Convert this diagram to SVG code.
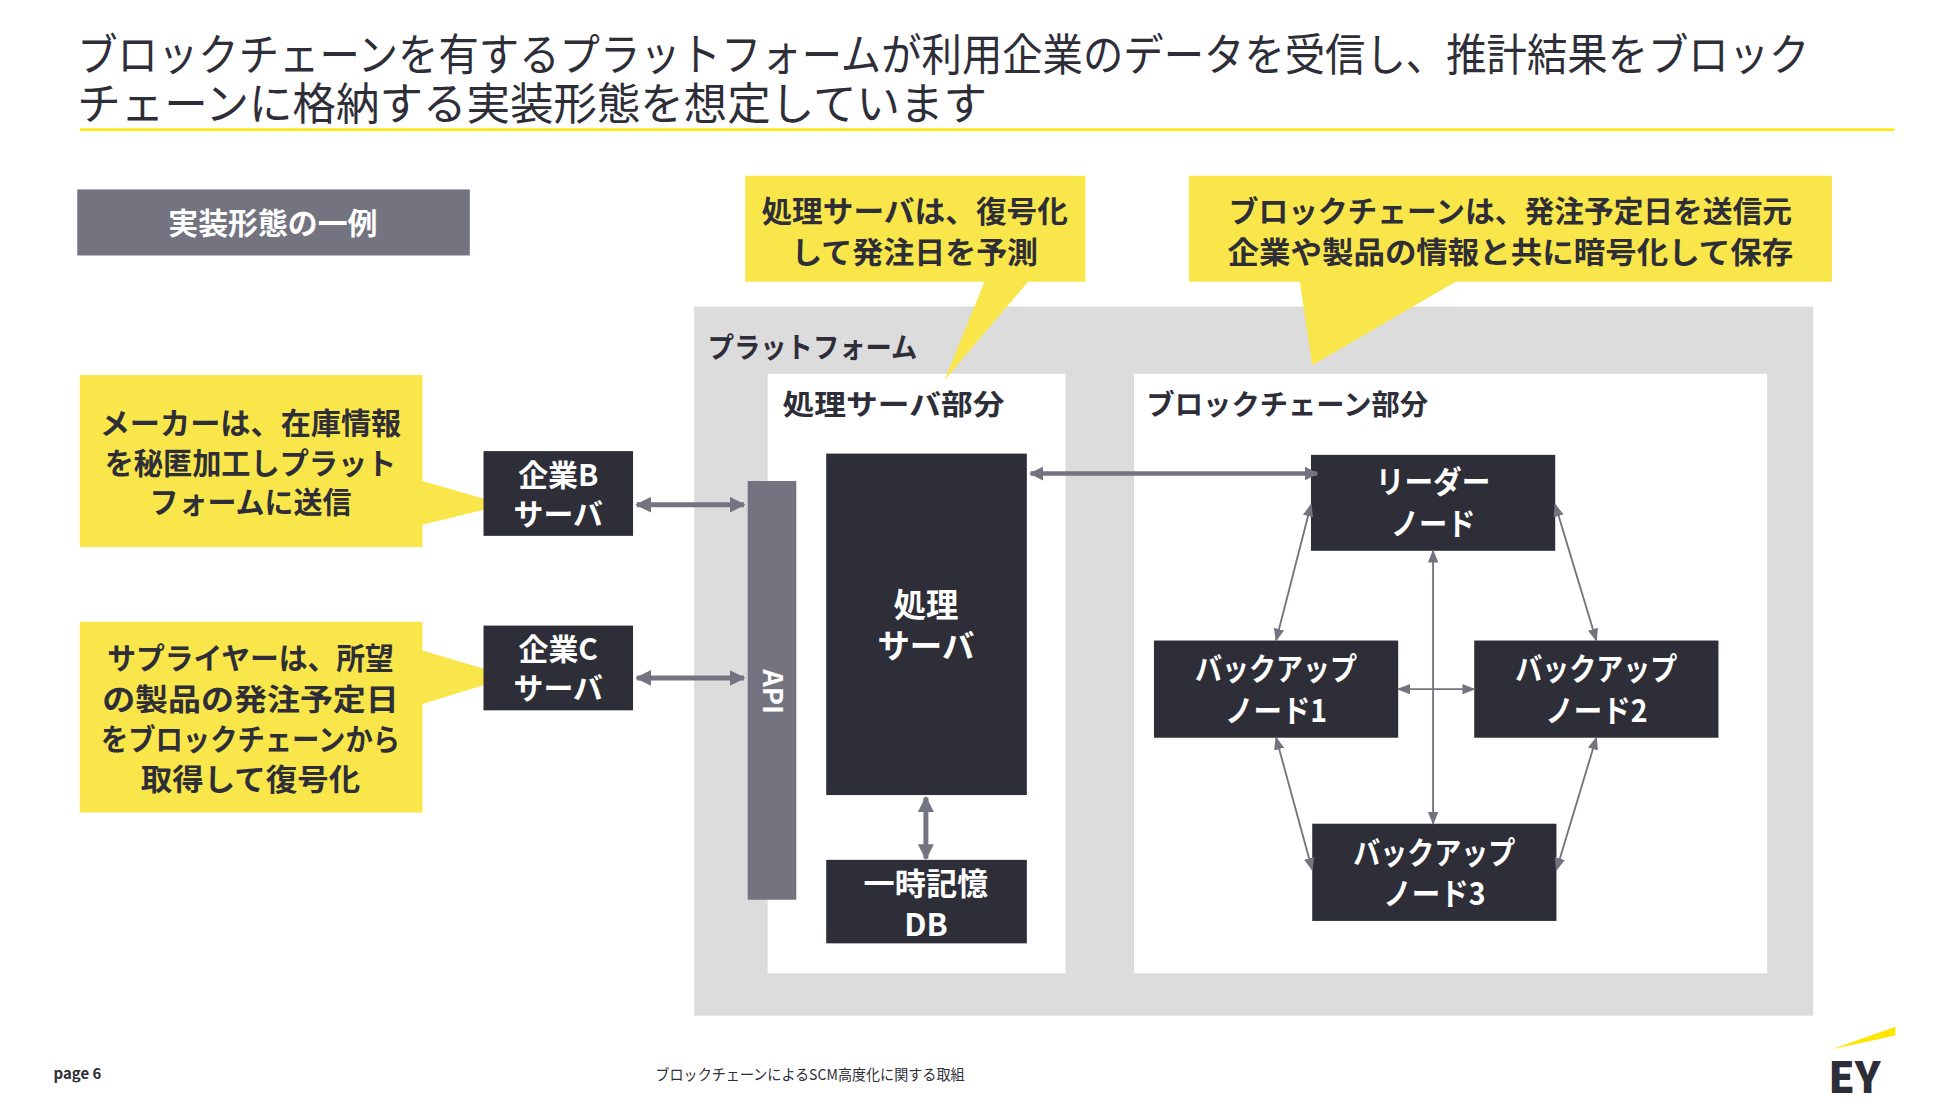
<svg xmlns="http://www.w3.org/2000/svg" width="1954" height="1114" viewBox="0 0 1954 1114">
<style>
text{font-family:"Noto Sans CJK JP","Liberation Sans",sans-serif;}
.b{font-weight:bold;}
.w{fill:#fff;}
.d{fill:#2E2E38;}
.y{fill:#F9E64A;}
.node{fill:#2E2E38;}
.ln{stroke:#747480;fill:none;}
</style>
<defs>
<marker id="ah" viewBox="0 0 10 10" refX="9" refY="5" markerWidth="3.2" markerHeight="3.2" orient="auto-start-reverse"><path d="M0,0L10,5L0,10z" fill="#747480"/></marker>
<marker id="at" viewBox="0 0 10 10" refX="9" refY="5" markerWidth="7" markerHeight="7" orient="auto-start-reverse"><path d="M0,1L10,5L0,9z" fill="#747480"/></marker>
</defs>
<rect width="1954" height="1114" fill="#fff"/>
<g transform="scale(1.24617)">
<g id="title">
<text x="62" y="57" font-size="36" class="d" textLength="1390" lengthAdjust="spacingAndGlyphs">ブロックチェーンを有するプラットフォームが利用企業のデータを受信し、推計結果をブロック</text>
<text x="62" y="96" font-size="36" class="d" textLength="730" lengthAdjust="spacingAndGlyphs">チェーンに格納する実装形態を想定しています</text>
<rect x="64" y="103" width="1456" height="2" fill="#FFE600"/>
</g>
<g id="label-example"><rect x="62" y="152" width="315" height="53" fill="#747480"/>
<text x="219" y="188" font-size="24" class="b w" text-anchor="middle">実装形態の一例</text></g>
<g id="platform"><rect x="557" y="246" width="898" height="569" fill="#DCDCDC"/>
<text x="568" y="287" font-size="23" class="b d" textLength="168" lengthAdjust="spacingAndGlyphs">プラットフォーム</text></g>
<g id="proc-part"><rect x="616" y="300" width="239" height="481" fill="#fff"/>
<text x="628" y="333" font-size="23" class="b d" textLength="178" lengthAdjust="spacingAndGlyphs">処理サーバ部分</text></g>
<g id="bc-part"><rect x="910" y="300" width="508" height="481" fill="#fff"/>
<text x="920" y="333" font-size="23" class="b d" textLength="226" lengthAdjust="spacingAndGlyphs">ブロックチェーン部分</text></g>
<g id="callout-proc"><path d="M598,141H871V226H825L758,305L790,226H598Z" class="y"/>
<text x="734" y="178" font-size="24" class="b d" text-anchor="middle" textLength="246" lengthAdjust="spacingAndGlyphs">処理サーバは、復号化</text>
<text x="734" y="211" font-size="24" class="b d" text-anchor="middle" textLength="198" lengthAdjust="spacingAndGlyphs">して発注日を予測</text></g>
<g id="callout-bc"><path d="M954,141H1470V226H1168L1053,293L1043,226H954Z" class="y"/>
<text x="1212" y="178" font-size="24" class="b d" text-anchor="middle" textLength="452" lengthAdjust="spacingAndGlyphs">ブロックチェーンは、発注予定日を送信元</text>
<text x="1212" y="211" font-size="24" class="b d" text-anchor="middle" textLength="454" lengthAdjust="spacingAndGlyphs">企業や製品の情報と共に暗号化して保存</text></g>
<g id="callout-maker"><path d="M64,301H339V386L405,405L339,421V439H64Z" class="y"/>
<text x="201" y="348" font-size="24" class="b d" text-anchor="middle" textLength="242" lengthAdjust="spacingAndGlyphs">メーカーは、在庫情報</text>
<text x="201" y="380" font-size="24" class="b d" text-anchor="middle" textLength="234" lengthAdjust="spacingAndGlyphs">を秘匿加工しプラット</text>
<text x="201" y="412" font-size="24" class="b d" text-anchor="middle" textLength="162" lengthAdjust="spacingAndGlyphs">フォームに送信</text></g>
<g id="callout-supplier"><path d="M64,499H339V522L410,543L339,565V652H64Z" class="y"/>
<text x="201" y="537" font-size="24" class="b d" text-anchor="middle" textLength="230" lengthAdjust="spacingAndGlyphs">サプライヤーは、所望</text>
<text x="201" y="570" font-size="24" class="b d" text-anchor="middle" textLength="238" lengthAdjust="spacingAndGlyphs">の製品の発注予定日</text>
<text x="201" y="602" font-size="24" class="b d" text-anchor="middle" textLength="240" lengthAdjust="spacingAndGlyphs">をブロックチェーンから</text>
<text x="201" y="634" font-size="24" class="b d" text-anchor="middle" textLength="176" lengthAdjust="spacingAndGlyphs">取得して復号化</text></g>
<g id="company-b"><rect x="388" y="362" width="120" height="68" class="node"/>
<text x="448" y="390" font-size="24" class="b w" text-anchor="middle">企業B</text>
<text x="448" y="421" font-size="24" class="b w" text-anchor="middle">サーバ</text></g>
<g id="company-c"><rect x="388" y="502" width="120" height="68" class="node"/>
<text x="448" y="530" font-size="24" class="b w" text-anchor="middle">企業C</text>
<text x="448" y="561" font-size="24" class="b w" text-anchor="middle">サーバ</text></g>
<g id="api"><rect x="600" y="386" width="39" height="336" fill="#747480"/>
<text x="0" y="0" font-size="22" class="b w" text-anchor="middle" transform="translate(612,555) rotate(90)">API</text></g>
<g id="proc-server"><rect x="663" y="364" width="161" height="274" class="node"/>
<text x="743" y="495" font-size="26" class="b w" text-anchor="middle">処理</text>
<text x="743" y="528" font-size="26" class="b w" text-anchor="middle">サーバ</text></g>
<g id="db"><rect x="663" y="690" width="161" height="67" class="node"/>
<text x="743" y="718" font-size="25" class="b w" text-anchor="middle">一時記憶</text>
<text x="743" y="751" font-size="25" class="b w" text-anchor="middle">DB</text></g>
<g id="leader"><rect x="1052" y="365" width="196" height="77" class="node"/>
<text x="1150" y="396" font-size="25" class="b w" text-anchor="middle" textLength="92" lengthAdjust="spacingAndGlyphs">リーダー</text>
<text x="1150" y="429" font-size="25" class="b w" text-anchor="middle" textLength="68" lengthAdjust="spacingAndGlyphs">ノード</text></g>
<g id="backup1"><rect x="926" y="514" width="196" height="78" class="node"/>
<text x="1024" y="546" font-size="25" class="b w" text-anchor="middle" textLength="130" lengthAdjust="spacingAndGlyphs">バックアップ</text>
<text x="1024" y="579" font-size="25" class="b w" text-anchor="middle" textLength="82" lengthAdjust="spacingAndGlyphs">ノード1</text></g>
<g id="backup2"><rect x="1183" y="514" width="196" height="78" class="node"/>
<text x="1281" y="546" font-size="25" class="b w" text-anchor="middle" textLength="130" lengthAdjust="spacingAndGlyphs">バックアップ</text>
<text x="1281" y="579" font-size="25" class="b w" text-anchor="middle" textLength="82" lengthAdjust="spacingAndGlyphs">ノード2</text></g>
<g id="backup3"><rect x="1053" y="661" width="196" height="78" class="node"/>
<text x="1151" y="693" font-size="25" class="b w" text-anchor="middle" textLength="130" lengthAdjust="spacingAndGlyphs">バックアップ</text>
<text x="1151" y="726" font-size="25" class="b w" text-anchor="middle" textLength="82" lengthAdjust="spacingAndGlyphs">ノード3</text></g>
<g id="connectors">
<line x1="511" y1="405" x2="597" y2="405" class="ln" stroke-width="4" marker-start="url(#ah)" marker-end="url(#ah)"/>
<line x1="511" y1="544" x2="597" y2="544" class="ln" stroke-width="4" marker-start="url(#ah)" marker-end="url(#ah)"/>
<line x1="827" y1="380" x2="1057" y2="380" class="ln" stroke-width="3.5" marker-start="url(#ah)" marker-end="url(#ah)"/>
<line x1="743" y1="640" x2="743" y2="689" class="ln" stroke-width="4" marker-start="url(#ah)" marker-end="url(#ah)"/>
<line x1="1052" y1="405" x2="1024" y2="514" class="ln" stroke-width="1.5" marker-start="url(#at)" marker-end="url(#at)"/>
<line x1="1248" y1="405" x2="1281" y2="514" class="ln" stroke-width="1.5" marker-start="url(#at)" marker-end="url(#at)"/>
<line x1="1024" y1="592" x2="1053" y2="698" class="ln" stroke-width="1.5" marker-start="url(#at)" marker-end="url(#at)"/>
<line x1="1281" y1="592" x2="1249" y2="698" class="ln" stroke-width="1.5" marker-start="url(#at)" marker-end="url(#at)"/>
<line x1="1150" y1="442" x2="1150" y2="661" class="ln" stroke-width="1.5" marker-start="url(#at)" marker-end="url(#at)"/>
<line x1="1122" y1="553" x2="1183" y2="553" class="ln" stroke-width="1.5" marker-start="url(#at)" marker-end="url(#at)"/>
</g>
<g id="footer">
<text x="43" y="866" font-size="12" class="b d">page 6</text>
<text x="650" y="867" font-size="12" class="d" text-anchor="middle" textLength="248" lengthAdjust="spacingAndGlyphs">ブロックチェーンによるSCM高度化に関する取組</text>
<polygon points="1470,842 1521,824 1521,831" fill="#FFE600"/>
<text x="1467" y="877" font-size="34" font-weight="900" fill="#2E2E38" font-family="Liberation Sans,sans-serif">EY</text>
</g>
</g>
</svg>
